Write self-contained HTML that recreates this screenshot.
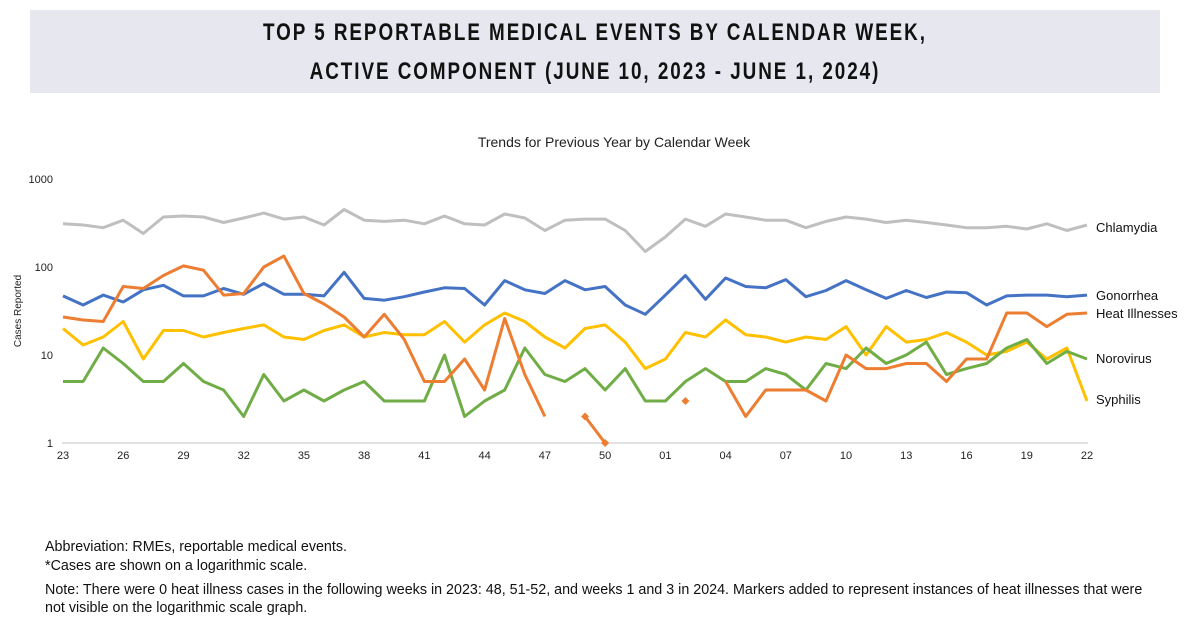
<!DOCTYPE html>
<html><head><meta charset="utf-8"><style>
body{margin:0;width:1200px;height:628px;background:#fff;font-family:"Liberation Sans",sans-serif;position:relative;overflow:hidden}
.hdr{position:absolute;left:30px;top:10px;width:1130px;height:83px;background:#e7e7f0}
.t{position:absolute;left:0;width:1130px;text-align:center;font-weight:bold;font-size:24px;letter-spacing:2.5px;color:#111;transform:scaleX(0.785)}
.n{position:absolute;left:45px;font-size:14.3px;color:#111}
</style></head><body>
<div class="hdr"><div class="t" style="top:9px">TOP 5 REPORTABLE MEDICAL EVENTS BY CALENDAR WEEK,</div><div class="t" style="top:48px">ACTIVE COMPONENT (JUNE 10, 2023 - JUNE 1, 2024)</div></div>
<svg id="c" width="1200" height="628" style="position:absolute;left:0;top:0" font-family="Liberation Sans, sans-serif"></svg>
<div class="n" style="top:539px">Abbreviation: RMEs, reportable medical events.</div>
<div class="n" style="top:558px">*Cases are shown on a logarithmic scale.</div>
<div class="n" style="top:582px">Note: There were 0 heat illness cases in the following weeks in 2023: 48, 51-52, and weeks 1 and 3 in 2024. Markers added to represent instances of heat illnesses that were</div>
<div class="n" style="top:600px">not visible on the logarithmic scale graph.</div>
<script>
var N=null;
var S={
g:[[310,300,280,340,240,370,380,370,320,360,410,350,370,300,450,340,330,340,310,380,310,300,400,360,260,340,350,350,260,150,220,350,290,400,370,340,340,280,330,370,350,320,340,320,300,280,280,290,270,310,260,300],"#bfbfbf"],
b:[[47,37,48,40,55,62,47,47,57,49,65,49,49,47,87,44,42,46,52,58,57,37,70,55,50,70,55,60,37,29,48,80,43,75,60,58,72,46,54,70,55,44,54,45,52,51,37,47,48,48,46,48],"#4472c4"],
y:[[20,13,16,24,9,19,19,16,18,20,22,16,15,19,22,16,18,17,17,24,14,22,30,24,16,12,20,22,14,7,9,18,16,25,17,16,14,16,15,21,10,21,14,15,18,14,10,11,14,9,12,3],"#ffc000"],
gr:[[5,5,12,8,5,5,8,5,4,2,6,3,4,3,4,5,3,3,3,10,2,3,4,12,6,5,7,4,7,3,3,5,7,5,5,7,6,4,8,7,12,8,10,14,6,7,8,12,15,8,11,9],"#70ad47"],
o:[[27,25,24,60,57,80,103,92,48,50,100,133,50,38,27,16,29,15,5,5,9,4,26,6,2,N,2,1,N,N,N,3,N,5,2,4,4,4,3,10,7,7,8,8,5,9,9,30,30,21,29,30],"#ed7d31"]};
function X(i){return 63+i*1024/51}
function Y(v){return 443-88*Math.log10(v)}
var h='<text x="614" y="147" font-size="14" text-anchor="middle" fill="#222">Trends for Previous Year by Calendar Week</text>';
h+='<line x1="62" y1="443" x2="1088" y2="443" stroke="#d9d9d9" stroke-width="1.5"/>';
[[1000,"1000"],[100,"100"],[10,"10"],[1,"1"]].forEach(function(a){h+='<text x="53" y="'+(Y(a[0])+4)+'" font-size="11" text-anchor="end" fill="#222">'+a[1]+'</text>'});
var labs=["23","26","29","32","35","38","41","44","47","50","01","04","07","10","13","16","19","22"];
labs.forEach(function(l,k){h+='<text x="'+X(k*3)+'" y="459" font-size="11" text-anchor="middle" fill="#222">'+l+'</text>'});
h+='<text transform="translate(21,311) rotate(-90)" font-size="10" text-anchor="middle" fill="#222">Cases Reported</text>';
["g","b","y","gr","o"].forEach(function(k){var d=S[k][0],c=S[k][1],p="",pen=false;
for(var i=0;i<d.length;i++){if(d[i]==N){pen=false;continue}p+=(pen?"L":"M")+X(i).toFixed(1)+" "+Y(d[i]).toFixed(1);pen=true}
h+='<path d="'+p+'" fill="none" stroke="'+c+'" stroke-width="3" stroke-linejoin="round"/>'});
[[26,2],[27,1],[31,3]].forEach(function(m){var x=X(m[0]),y=Y(m[1]);h+='<path d="M'+x+' '+(y-4)+'L'+(x+4)+' '+y+'L'+x+' '+(y+4)+'L'+(x-4)+' '+y+'Z" fill="#ed7d31"/>'});
[["Chlamydia",232],["Gonorrhea",300],["Heat Illnesses",318],["Norovirus",363],["Syphilis",404]].forEach(function(a){h+='<text x="1096" y="'+a[1]+'" font-size="13" fill="#111">'+a[0]+'</text>'});
document.getElementById("c").innerHTML=h;
</script>
</body></html>
